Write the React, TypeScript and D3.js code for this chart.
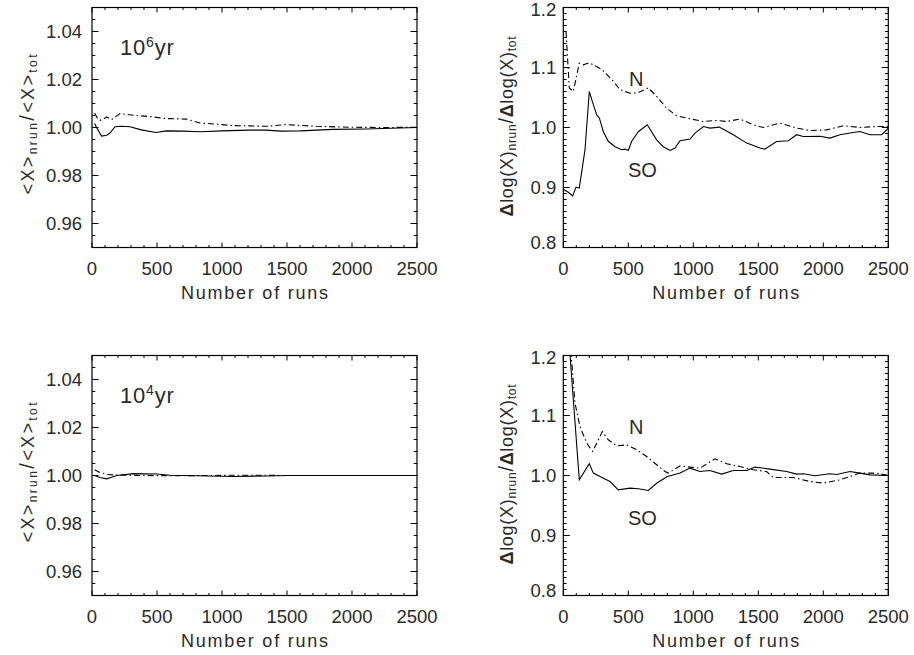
import React from "react";
import * as d3 from "d3";

// ---------- DATA ----------
const runTicks = [0, 500, 1000, 1500, 2000, 2500];
const ratioTicksMean = [0.96, 0.98, 1.0, 1.02, 1.04];
const ratioTicksLog = [0.8, 0.9, 1.0, 1.1, 1.2];

// Top-left (10^6 yr) mean ratio
const tlSolidX = [20, 35, 74, 113, 140, 177, 228, 292, 380, 492, 574, 700, 831, 1000, 1200, 1343, 1450, 1600, 1856, 2113, 2300, 2500];
const tlSolidY = [1.0017, 1.0, 0.9964, 0.9968, 0.9978, 1.0003, 1.0005, 1.0003, 0.999, 0.9979, 0.9986, 0.9985, 0.9982, 0.9986, 0.9989, 0.9989, 0.9985, 0.9986, 0.9992, 0.9994, 0.9997, 1.0];
const tlDashX = [20, 45, 62, 90, 113, 151, 215, 318, 472, 574, 728, 831, 1087, 1341, 1495, 1725, 1985, 2241, 2500];
const tlDashY = [1.006, 1.0035, 1.003, 1.0036, 1.0044, 1.0033, 1.0058, 1.0051, 1.0044, 1.0037, 1.0035, 1.0019, 1.0008, 1.0005, 1.0012, 1.0005, 1.0001, 1.0, 1.0001];

// Top-right (10^6 yr) log-width ratio
const trSoX = [0, 38, 72, 98, 123, 167, 200, 231, 257, 277, 308, 346, 398, 449, 475, 500, 526, 577, 646, 718, 769, 821, 859, 898, 975, 1013, 1079, 1128, 1200, 1308, 1411, 1513, 1550, 1641, 1731, 1795, 1846, 1974, 2051, 2128, 2205, 2282, 2359, 2449, 2500];
const trSoY = [0.897, 0.892, 0.886, 0.9007, 0.899, 0.963, 1.06, 1.038, 1.021, 1.016, 0.993, 0.977, 0.968, 0.963, 0.964, 0.9617, 0.977, 0.993, 1.0045, 0.9795, 0.968, 0.9617, 0.9657, 0.978, 0.9807, 0.9907, 1.0017, 0.999, 1.0007, 0.988, 0.974, 0.9657, 0.964, 0.9767, 0.978, 0.988, 0.985, 0.9855, 0.9823, 0.988, 0.9907, 0.9933, 0.988, 0.988, 0.999];
const trNX = [21, 46, 77, 123, 154, 200, 244, 295, 385, 436, 513, 577, 654, 718, 795, 872, 949, 1077, 1180, 1257, 1359, 1462, 1538, 1667, 1795, 1897, 2026, 2154, 2282, 2410, 2500];
const trNY = [1.16, 1.066, 1.06, 1.107, 1.1045, 1.108, 1.103, 1.097, 1.077, 1.063, 1.057, 1.058, 1.066, 1.052, 1.032, 1.0195, 1.0157, 1.01, 1.0117, 1.01, 1.014, 1.0045, 1.0, 1.0073, 0.999, 0.995, 0.996, 1.003, 1.0, 1.0017, 1.0017];

// Bottom-left (10^4 yr) mean ratio
const blSolidX = [20, 60, 113, 150, 190, 318, 497, 600, 800, 1087, 1343, 1500, 2000, 2500];
const blSolidY = [1.0, 0.9992, 0.9986, 0.9993, 1.0, 1.0008, 1.0006, 1.0001, 0.9999, 0.9996, 0.9998, 1.0, 1.0, 1.0];
const blDashX = [20, 62, 138, 250, 400, 600, 900, 1087, 1300, 1500, 2000, 2500];
const blDashY = [1.0024, 1.0012, 1.0003, 1.0001, 1.0, 0.9999, 1.0, 1.0001, 1.0001, 1.0, 1.0, 1.0];

// Bottom-right (10^4 yr) log-width ratio
const brSoX = [45, 123, 200, 231, 282, 359, 423, 513, 577, 654, 718, 782, 795, 898, 975, 1051, 1128, 1218, 1308, 1411, 1475, 1590, 1718, 1795, 1846, 1936, 2051, 2103, 2205, 2282, 2359, 2500];
const brSoY = [1.22, 0.9928, 1.0195, 1.004, 0.9983, 0.99, 0.976, 0.979, 0.978, 0.975, 0.987, 0.9957, 0.998, 1.004, 1.0123, 1.0067, 1.0083, 1.0023, 1.0083, 1.0083, 1.014, 1.0107, 1.0067, 1.0023, 1.003, 0.9995, 1.003, 1.0017, 1.0067, 1.004, 1.001, 1.0];
const brNX = [50, 90, 128, 180, 226, 300, 346, 410, 487, 564, 641, 718, 782, 808, 898, 975, 1051, 1167, 1257, 1359, 1462, 1564, 1615, 1769, 1897, 2000, 2128, 2205, 2282, 2410, 2500];
const brNY = [1.23, 1.1207, 1.0817, 1.054, 1.04, 1.0733, 1.0595, 1.0495, 1.051, 1.043, 1.0317, 1.018, 1.0067, 1.004, 1.016, 1.014, 1.0123, 1.0278, 1.0195, 1.015, 1.0095, 1.0067, 0.9967, 0.9967, 0.99, 0.9873, 0.9928, 0.9983, 1.004, 1.004, 1.0];

// ---------- LAYOUT ----------
const FONT = "'Liberation Sans', Arial, sans-serif";
const TXT = "#2a2a2a";
const DASHDOT = "6,3,1.5,3";

type Series = { x: number[]; y: number[]; dash: boolean };
type PanelCfg = {
  id: string;
  left: number; right: number; top: number; bottom: number;
  yDomain: [number, number];
  yTicks: number[];
  yMinorStep: number;
  yFmt: (v: number) => string;
  yLabelGap: number;
  kind: "mean" | "log";
  series: Series[];
  age?: string;
  nPos?: [number, number];
  soPos?: [number, number];
};

const zip = (xs: number[], ys: number[]) => xs.map((x, i) => [x, ys[i]] as [number, number]);

function Panel({ c }: { c: PanelCfg }) {
  const x = d3.scaleLinear().domain([0, 2500]).range([c.left, c.right]);
  const y = d3.scaleLinear().domain(c.yDomain).range([c.bottom, c.top]);
  const line = d3.line<[number, number]>().x((d) => x(d[0])).y((d) => y(d[1]));
  const xMinor = d3.range(0, 2500.001, 100);
  const nY = Math.round((c.yDomain[1] - c.yDomain[0]) / c.yMinorStep);
  const yMinor = d3.range(0, nY + 1).map((i) => c.yDomain[0] + i * c.yMinorStep);
  const isMajorX = (v: number) => Math.abs(v % 500) < 1e-6;
  const isMajorY = (v: number) => c.yTicks.some((t) => Math.abs(t - v) < 1e-6) || Math.abs(v - c.yDomain[0]) < 1e-6 || Math.abs(v - c.yDomain[1]) < 1e-6;
  const xTL = 5, xTLm = 2.5, yTL = 6.5, yTLm = 3.3;
  const cy = (c.top + c.bottom) / 2 - 3;
  const cx = (c.left + c.right) / 2;
  const ylabX = c.left - (c.kind === "mean" ? 58.5 : 50);
  // IDL keeps edge labels inside the frame's height
  const labelY = (v: number) => {
    const p = y(v);
    if (Math.abs(p - c.top) < 0.5) return p + 1.8;
    if (Math.abs(p - c.bottom) < 0.5) return p - 5;
    return p;
  };
  return (
    <g>
      <defs>
        <clipPath id={"clip" + c.id}>
          <rect x={c.left} y={c.top} width={c.right - c.left} height={c.bottom - c.top} />
        </clipPath>
      </defs>
      {/* ticks */}
      {xMinor.map((v) => {
        const L = isMajorX(v) ? xTL : xTLm;
        return (
          <g key={"xt" + v} stroke="#000" strokeWidth={1}>
            <line x1={x(v)} x2={x(v)} y1={c.bottom} y2={c.bottom - L} />
            <line x1={x(v)} x2={x(v)} y1={c.top} y2={c.top + L} />
          </g>
        );
      })}
      {yMinor.map((v, i) => {
        const L = isMajorY(v) ? yTL : yTLm;
        return (
          <g key={"yt" + i} stroke="#000" strokeWidth={1}>
            <line x1={c.left} x2={c.left + L} y1={y(v)} y2={y(v)} />
            <line x1={c.right} x2={c.right - L} y1={y(v)} y2={y(v)} />
          </g>
        );
      })}
      <rect x={c.left} y={c.top} width={c.right - c.left} height={c.bottom - c.top} fill="none" stroke="#000" strokeWidth={1.2} />
      {/* tick labels */}
      {runTicks.map((v) => (
        <text key={"xl" + v} x={x(v)} y={c.bottom + 27.5} textAnchor="middle" fontSize={18.5} fontFamily={FONT} fill={TXT}>
          {v}
        </text>
      ))}
      {c.yTicks.map((v) => (
        <text key={"yl" + v} x={c.left - c.yLabelGap} y={labelY(v) + 6.5} textAnchor="end" fontSize={18.5} fontFamily={FONT} fill={TXT}>
          {c.yFmt(v)}
        </text>
      ))}
      {/* axis titles */}
      <text x={cx} y={c.bottom + 51} textAnchor="middle" fontSize={18} fontFamily={FONT} fill={TXT} textLength={147} lengthAdjust="spacing">
        Number of runs
      </text>
      {c.kind === "mean" ? (
        <text transform={`translate(${ylabX},${cy}) rotate(-90)`} textAnchor="middle" fontSize={18} fontFamily={FONT} fill={TXT} textLength={140} lengthAdjust="spacing">
          {"<X>"}
          <tspan fontSize={12} dy={3}>nrun</tspan>
          <tspan dy={-3} fontSize={20}>/</tspan>
          <tspan>{"<X>"}</tspan>
          <tspan fontSize={12} dy={3}>tot</tspan>
        </text>
      ) : (
        <text transform={`translate(${ylabX},${cy + 2})  rotate(-90)`} textAnchor="middle" fontSize={18} fontFamily={FONT} fill={TXT} textLength={180} lengthAdjust="spacing">
          <tspan fontWeight="bold">Δ</tspan>
          {"log(X)"}
          <tspan fontSize={12} dy={3}>nrun</tspan>
          <tspan dy={-3} fontSize={20}>/</tspan>
          <tspan fontWeight="bold">Δ</tspan>
          <tspan>log(X)</tspan>
          <tspan fontSize={12} dy={3}>tot</tspan>
        </text>
      )}
      {/* series */}
      <g clipPath={`url(#clip${c.id})`}>
        {c.series.map((s, i) => (
          <path key={i} d={line(zip(s.x, s.y)) || ""} fill="none" stroke="#000" strokeWidth={1.1} strokeDasharray={s.dash ? DASHDOT : undefined} />
        ))}
      </g>
      {c.age && (
        <text x={c.left + 28} y={c.top + 47.5} fontSize={22} fontFamily={FONT} fill={TXT} letterSpacing={0.8}>
          10
          <tspan fontSize={14} dy={-8.5}>{c.age}</tspan>
          <tspan fontSize={22} dy={8.5}>yr</tspan>
        </text>
      )}
      {c.nPos && (
        <text x={c.nPos[0]} y={c.nPos[1]} fontSize={20} fontFamily={FONT} fill={TXT}>N</text>
      )}
      {c.soPos && (
        <text x={c.soPos[0]} y={c.soPos[1]} fontSize={20} fontFamily={FONT} fill={TXT}>SO</text>
      )}
    </g>
  );
}

const L1 = 92, R1 = 417, L2 = 563.3, R2 = 888.3;
const T1 = 7.5, B1 = 247.5, T2 = 355.5, B2 = 595.5;

const panels: PanelCfg[] = [
  {
    id: "tl", left: L1, right: R1, top: T1, bottom: B1, yDomain: [0.95, 1.05], yTicks: ratioTicksMean,
    yMinorStep: 0.005, yFmt: d3.format(".2f"), yLabelGap: 10, kind: "mean",
    series: [{ x: tlSolidX, y: tlSolidY, dash: false }, { x: tlDashX, y: tlDashY, dash: true }], age: "6",
  },
  {
    id: "tr", left: L2, right: R2, top: T1, bottom: B1, yDomain: [0.8, 1.2], yTicks: ratioTicksLog,
    yMinorStep: 0.01, yFmt: d3.format(".1f"), yLabelGap: 7, kind: "log",
    series: [{ x: trSoX, y: trSoY, dash: false }, { x: trNX, y: trNY, dash: true }],
    nPos: [629, 86], soPos: [628, 176.5],
  },
  {
    id: "bl", left: L1, right: R1, top: T2, bottom: B2, yDomain: [0.95, 1.05], yTicks: ratioTicksMean,
    yMinorStep: 0.005, yFmt: d3.format(".2f"), yLabelGap: 10, kind: "mean",
    series: [{ x: blSolidX, y: blSolidY, dash: false }, { x: blDashX, y: blDashY, dash: true }], age: "4",
  },
  {
    id: "br", left: L2, right: R2, top: T2, bottom: B2, yDomain: [0.8, 1.2], yTicks: ratioTicksLog,
    yMinorStep: 0.01, yFmt: d3.format(".1f"), yLabelGap: 7, kind: "log",
    series: [{ x: brSoX, y: brSoY, dash: false }, { x: brNX, y: brNY, dash: true }],
    nPos: [629, 434], soPos: [628, 525],
  },
];

export default function App() {
  return (
    <svg width={914} height={655} style={{ position: "absolute", left: 0, top: 0, background: "#fff" }}>
      <rect x={0} y={0} width={914} height={655} fill="#fff" />
      {panels.map((p) => (
        <Panel key={p.id} c={p} />
      ))}
    </svg>
  );
}
